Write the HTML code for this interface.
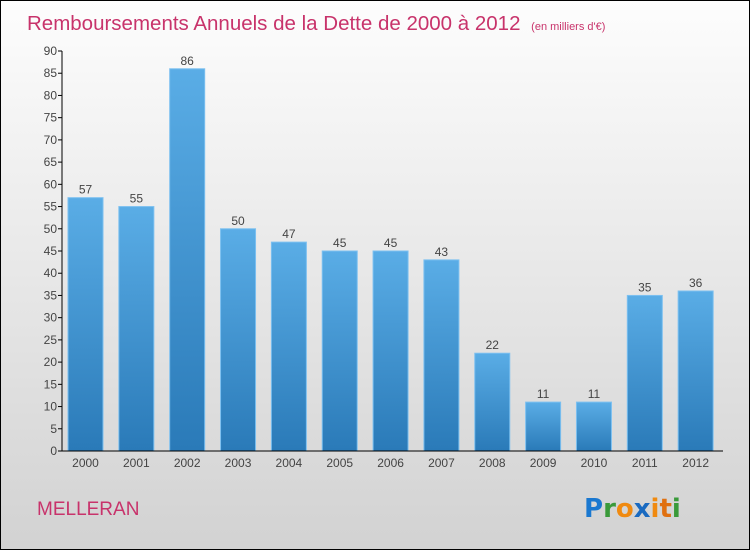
<!DOCTYPE html>
<html><head><meta charset="utf-8"><style>
body{margin:0}
#w{width:750px;height:550px;position:relative;box-sizing:border-box;border:1px solid #000;background:linear-gradient(#fdfdfd,#d2d2d2);font-family:"Liberation Sans",sans-serif;overflow:hidden}
</style></head><body>
<div id="w">
<svg id="s" width="750" height="550" style="position:absolute;left:0;top:0">
<defs><linearGradient id="g" x1="0" y1="0" x2="0" y2="1"><stop offset="0" stop-color="#5aade6"/><stop offset="1" stop-color="#2a7ab8"/></linearGradient></defs>
<text x="26" y="29" font-size="20.5" fill="#c8336b">Remboursements Annuels de la Dette de 2000 à 2012 <tspan font-size="11" dx="5">(en milliers d'€)</tspan></text>
<text x="36" y="514" font-size="19" fill="#c8336b">MELLERAN</text>
<g font-size="26" font-weight="bold" font-family="'DejaVu Sans',sans-serif">
<text x="583" y="516" fill="#1a78d0">P<tspan fill="#3a9a3a">r</tspan><tspan fill="#f08a10">o</tspan><tspan fill="#1a6ac0">x</tspan><tspan fill="#f08a10">i</tspan><tspan fill="#e07010">t</tspan><tspan fill="#3a9a3a">i</tspan></text>
</g>
<g id="plot"></g>
</svg>
</div>
<script>
const categories=["2000","2001","2002","2003","2004","2005","2006","2007","2008","2009","2010","2011","2012"];
const values=[57,55,86,50,47,45,45,43,22,11,11,35,36];
const yTicks=[0,5,10,15,20,25,30,35,40,45,50,55,60,65,70,75,80,85,90];
const NS="http://www.w3.org/2000/svg";
const p=document.getElementById('plot');
const y0=450,yMax=90,h=400,x0=61,x1=722;
const y=v=>y0-v/yMax*h;
const step=(x1-x0)/categories.length;
const x=i=>x0+6+i*step;
const bw=35;
function mk(t,a,par){const e=document.createElementNS(NS,t);for(const k in a)e.setAttribute(k,a[k]);(par||p).appendChild(e);return e;}
yTicks.forEach(v=>{
 const l=mk('line',{x1:x0-4,x2:x0,y1:y(v),y2:y(v),stroke:'#000'});
 
 
 const t=mk('text',{x:x0-5,y:y(v)+4,'text-anchor':'end','font-size':12,fill:'#444'});
 t.textContent=v;
 
 
});
values.forEach((v,i)=>{
 const r=mk('rect',{x:x(i),y:y(v),width:bw,height:y0-y(v),fill:'url(#g)',stroke:'#7cc0f0','stroke-width':1});
 
 
 const t=mk('text',{x:x(i)+bw/2,y:y(v)-4,'text-anchor':'middle','font-size':12,fill:'#444'});
 t.textContent=v;
 
 
 const c=mk('text',{x:x(i)+bw/2,y:466,'text-anchor':'middle','font-size':12,fill:'#444'});
 c.textContent=categories[i];
 
 
});
const ya=mk('line',{x1:x0,x2:x0,y1:y(90),y2:y0,stroke:'#000'});


const xa=mk('line',{x1:x0,x2:x1,y1:y0,y2:y0,stroke:'#000'});


</script>
</body></html>
